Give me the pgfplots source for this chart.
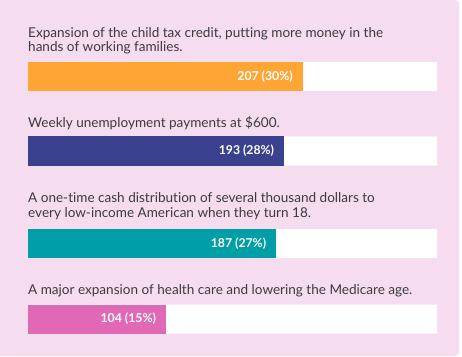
\documentclass[border=0pt]{standalone}
\usepackage{pgfplots}
\pgfplotsset{compat=1.18}
\usepackage{fontspec}
\setmainfont{Lato}[Ligatures={NoCommon}]
\definecolor{bg}{HTML}{F6DCEF}
\definecolor{txt}{HTML}{3B3B3B}
\definecolor{corange}{HTML}{FFA533}
\definecolor{cnavy}{HTML}{3A4290}
\definecolor{cteal}{HTML}{009EA6}
\definecolor{cpink}{HTML}{E068B4}
\begin{document}
\begin{tikzpicture}[x=1bp,y=1bp]
\fill[white] (0,0) rectangle (462,356);
\fill[bg,rounded corners=4bp] (0,0) rectangle (459,356);
\fill[bg] (0,0) rectangle (440,356);
\begin{axis}[
  at={(28bp,0bp)}, anchor=south west,
  scale only axis, width=409bp, height=356bp,
  xmin=0, xmax=308, ymin=-356, ymax=0,
  axis lines=none, xbar, bar width=29, bar shift=0pt,
  clip=false,
  point meta=explicit symbolic,
  nodes near coords,
  every node near coord/.append style={anchor=east, xshift=-10bp, text=white, font=\fontsize{12.3}{14}\selectfont\bfseries, inner sep=0pt},
]
\addplot[draw=none, fill=white, nodes near coords={}] coordinates {(308,-76.5) [] (308,-151) [] (308,-243.5) [] (308,-319) []};
\addplot[draw=none, fill=corange] coordinates {(207,-76.5) [207 (30\%)]};
\addplot[draw=none, fill=cnavy] coordinates {(193,-151) [193 (28\%)]};
\addplot[draw=none, fill=cteal] coordinates {(187,-243.5) [187 (27\%)]};
\addplot[draw=none, fill=cpink] coordinates {(104,-319) [104 (15\%)]};
\begin{scope}[every node/.style={anchor=base west, inner sep=0pt, text=txt, font=\fontsize{13.6}{15}\selectfont}]
\node at (axis cs:0,-37.3) {Expansion of the child tax credit, putting more money in the};
\node at (axis cs:0,-51.8) {hands of working families.};
\node at (axis cs:0,-127.3) {Weekly unemployment payments at \$600.};
\node at (axis cs:0,-202.7) {A one-time cash distribution of several thousand dollars to};
\node at (axis cs:0,-217.3) {every low-income American when they turn 18.};
\node at (axis cs:0,-294.3) {A major expansion of health care and lowering the Medicare age.};
\end{scope}
\end{axis}
\end{tikzpicture}
\end{document}
